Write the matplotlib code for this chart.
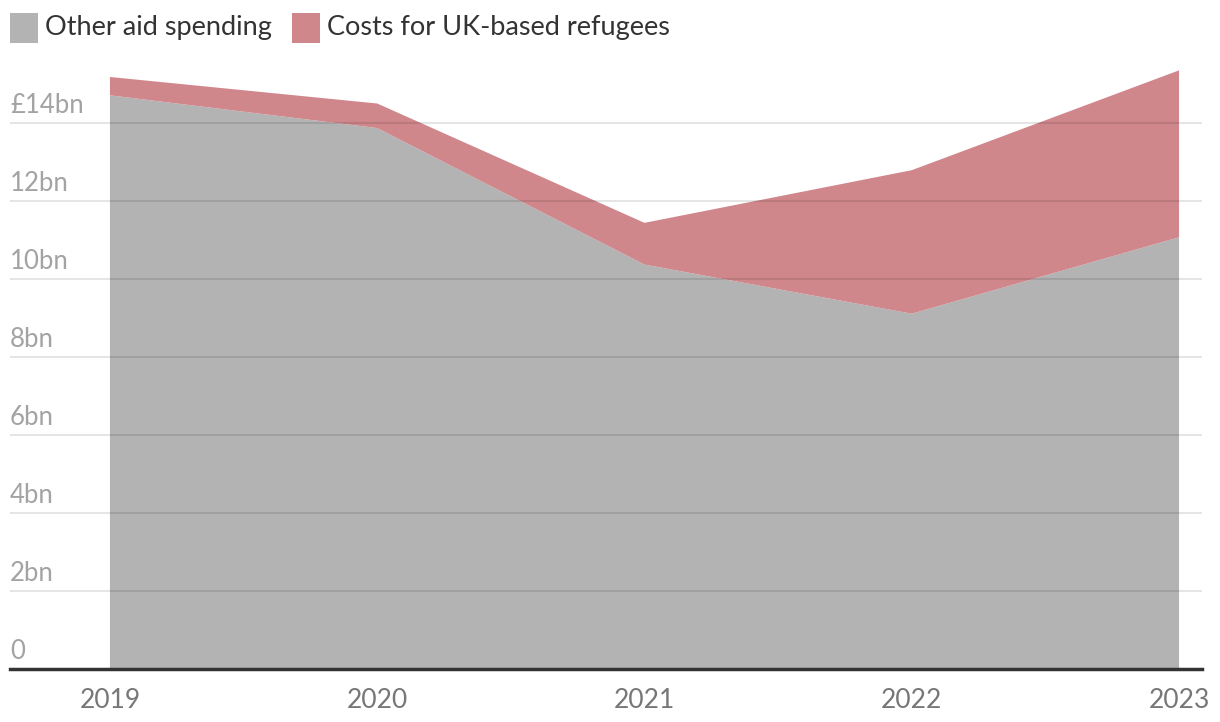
import numpy as np
import matplotlib
matplotlib.use("Agg")
import matplotlib.pyplot as plt
from matplotlib.patches import Rectangle
from matplotlib.transforms import blended_transform_factory, offset_copy

years = [2019, 2020, 2021, 2022, 2023]
other_aid = [14.71, 13.87, 10.37, 9.11, 11.07]
refugee_costs = [0.47, 0.63, 1.07, 3.68, 4.28]
series_names = ["Other aid spending", "Costs for UK-based refugees"]
series_colors = ["#b3b3b3", "#d0878c"]
y_ticks = [0, 2, 4, 6, 8, 10, 12, 14]
y_labels = ["0", "2bn", "4bn", "6bn", "8bn", "10bn", "12bn", "£14bn"]

plt.rcParams["font.family"] = ["Lato", "DejaVu Sans"]

W, H = 1220, 722
fig = plt.figure(figsize=(W / 100, H / 100), dpi=100)
ax = fig.add_axes([10 / W, 1 - 669 / H, (1202 - 10) / W, (669 - 45) / H])

ax.stackplot(years, other_aid, refugee_costs, colors=series_colors, linewidth=0, zorder=1)

ax.set_xlim(2018.626, 2023.086)
ax.set_ylim(0, 16)

# gridlines over the areas
for t in y_ticks[1:]:
    ax.axhline(t, color="black", alpha=0.1, linewidth=1.5, zorder=3)

for s in ["top", "right", "left"]:
    ax.spines[s].set_visible(False)
ax.spines["bottom"].set_color("#333333")
ax.spines["bottom"].set_linewidth(2.5)
ax.spines["bottom"].set_zorder(4)

ax.set_yticks([])
ax.set_xticks(years)
ax.set_xticklabels([str(y) for y in years], fontsize=19, color="#777777")
ax.tick_params(axis="x", length=0, pad=14)

trans = blended_transform_factory(ax.transAxes, ax.transData)
trans = offset_copy(trans, fig=fig, x=0, y=7, units="points")
for t, lab in zip(y_ticks, y_labels):
    ax.text(0, t, lab, transform=trans, fontsize=18.5, color="#a3a3a3",
            ha="left", va="baseline", zorder=5)

# legend
leg_x = [10, 292]
for x0, name, col in zip(leg_x, series_names, series_colors):
    fig.patches.append(Rectangle((x0 / W, 1 - 43 / H), 28 / W, 30 / H,
                                 transform=fig.transFigure, facecolor=col,
                                 edgecolor="none"))
    fig.text((x0 + 35) / W, 1 - 28 / H, name, fontsize=19.5, color="#333333",
             ha="left", va="center")

fig.savefig("out.png", dpi=100)
